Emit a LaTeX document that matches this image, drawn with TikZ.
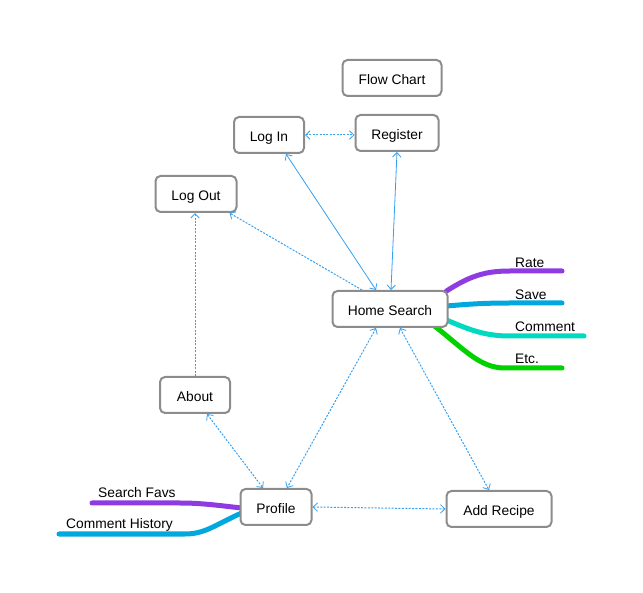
\documentclass[tikz,border=0pt]{standalone}
\usepackage{fontspec}
\setmainfont{Liberation Sans}
\usetikzlibrary{arrows.meta,calc,backgrounds}
\definecolor{linkblue}{RGB}{52,160,240}
\definecolor{boxgray}{RGB}{140,140,140}
\definecolor{brpurple}{RGB}{142,60,225}
\definecolor{brblue}{RGB}{0,168,222}
\definecolor{brteal}{RGB}{0,218,192}
\definecolor{brgreen}{RGB}{0,210,0}
\tikzset{
  box/.style={draw=boxgray, line width=2pt, rounded corners=5pt, fill=white,
    minimum height=36pt, inner sep=0pt, text height=13pt, text depth=0pt,
    font=\fontsize{13.8}{16}\selectfont},
  lbl/.style={anchor=west, inner sep=0pt, font=\fontsize{13.8}{16}\selectfont},
  mytip/.tip={Straight Barb[length=4.5pt,width=8.5pt,line width=0.8pt]},
  conn/.style={draw=linkblue, line width=0.8pt},
  dotconn/.style={conn, line width=1pt, dash pattern=on 2pt off 1.4pt},
  branch/.style={line width=5pt, line cap=round},
}
\begin{document}
\begin{tikzpicture}[x=1pt,y=-1pt]
\useasboundingbox (0,0) rectangle (643,593);
% nodes
\node[box, minimum width=99pt] (flow) at (392,78) {Flow Chart};
\node[box, minimum width=70pt] (login) at (269,135) {Log In};
\node[box, minimum width=83pt] (register) at (397,133) {Register};
\node[box, minimum width=81pt] (logout) at (196,194) {Log Out};
\node[box, minimum width=115pt] (home) at (390,309) {Home Search};
\node[box, minimum width=70pt] (about) at (195,395) {About};
\node[box, minimum width=71pt] (profile) at (276,507) {Profile};
\node[box, minimum width=105pt] (recipe) at (499,509) {Add Recipe};
% branch labels
\node[lbl] (lrate) at (515,263) {Rate};
\node[lbl] (lsave) at (515,295) {Save};
\node[lbl] (lcomment) at (515,327) {Comment};
\node[lbl] (letc) at (515,359) {Etc.};
\node[lbl] (lfavs) at (98,493) {Search Favs};
\node[lbl] (lhist) at (66,525) {Comment History};
% branch ends
\coordinate (erate) at (562,271);
\coordinate (esave) at (562,303);
\coordinate (ecomment) at (584,336);
\coordinate (eetc) at (562,368);
\coordinate (efavs) at (92,503);
\coordinate (ehist) at (59,534);
\begin{scope}[on background layer]
\draw[branch, brpurple] ($(home.north east)+(-2,1)$) .. controls (470,276) and (485,271) .. (510,271) -- (erate);
\draw[branch, brblue] ($(home.east)+(-2,-3)$) .. controls (470,304) and (485,303) .. (510,303) -- (esave);
\draw[branch, brteal] ($(home.east)+(-2,11)$) .. controls (470,330) and (485,336) .. (510,336) -- (ecomment);
\draw[branch, brgreen] ($(home.south east)+(-14,-2)$) .. controls (465,350) and (480,368) .. (505,368) -- (eetc);
\draw[branch, brpurple] ($(profile.west)+(2,1)$) .. controls (215,505) and (200,503) .. (180,503) -- (efavs);
\draw[branch, brblue] ($(profile.west)+(2,6)$) .. controls (215,525) and (205,534) .. (185,534) -- (ehist);
\end{scope}
% connectors
\draw[dotconn, mytip-mytip] (login.east) -- (register.west |- login.east);
\draw[conn, mytip-mytip] ($(login.south)+(17,0)$) -- ($(home.north)+(-14,0)$);
\draw[conn, mytip-mytip] (register.south) -- ($(home.north)+(1,0)$);
\draw[dotconn, -mytip] ($(home.north)+(-28,0)$) -- ($(logout.south east)+(-8,0)$);
\draw[dotconn, -mytip] (about.north) -- (about.north |- logout.south);
\draw[dotconn, mytip-mytip] ($(about.south)+(12,0)$) -- ($(profile.north)+(-13,0)$);
\draw[dotconn, mytip-mytip] ($(home.south)+(-14,0)$) -- ($(profile.north)+(11,0)$);
\draw[dotconn, mytip-mytip] ($(home.south)+(10,0)$) -- ($(recipe.north)+(-10,0)$);
\draw[dotconn, mytip-mytip] (profile.east) -- (recipe.west);
\end{tikzpicture}
\end{document}
